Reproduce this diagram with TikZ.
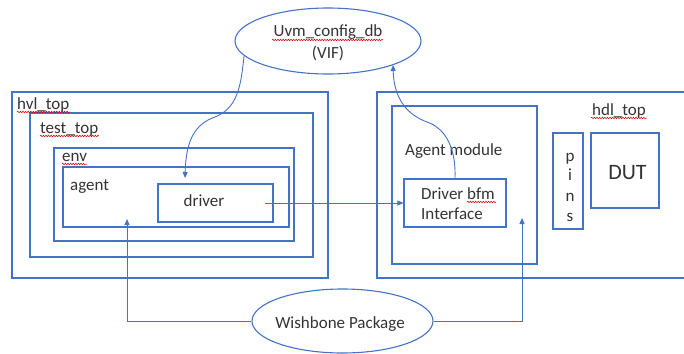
\documentclass[tikz,border=0pt]{standalone}
\usepackage{fontspec}
\setmainfont{Carlito}
\usetikzlibrary{shapes.geometric,arrows.meta,decorations.pathmorphing,fit}
\definecolor{ln}{HTML}{4472C4}
\definecolor{tx}{HTML}{333333}
\begin{document}
\begin{tikzpicture}[x=1pt,y=-1pt,
  box/.style={draw=ln,line width=1.1pt,inner sep=0pt,rectangle},
  ell/.style={draw=ln,line width=1.1pt,ellipse,inner sep=0pt},
  lab/.style={text=tx,font=\fontsize{17}{20}\selectfont,inner sep=0pt},
  conn/.style={draw=ln,line width=0.9pt,-{Triangle[length=6pt,width=5pt]}},
  squig/.style={draw=red!85!black,line width=0.5pt,decorate,decoration={snake,amplitude=0.8pt,segment length=2.6pt}}]
\useasboundingbox (0,0) rectangle (684,353);
% left hierarchy
\node[box,fit={(12,92) (328,278)}] (hvl) {};
\node[box,fit={(30,113) (313,257)}] (tst) {};
\node[box,fit={(54,148) (294,241)}] (env) {};
\node[box,fit={(63,167) (289,227)}] (agt) {};
\node[box,fit={(158,184) (273,222)}] (drv) {};
\node[lab,anchor=base west] (lhvl) at (17,109) {hvl\_top};
\node[lab,anchor=base west] (ltst) at (40,133) {test\_top};
\node[lab,anchor=base west] (lenv) at (62,161.5) {env};
\node[lab,anchor=base west] (lagt) at (70,190) {agent};
\node[lab,anchor=base] (ldrv) at (204,206.5) {driver};
% right hierarchy
\node[box,fit={(377,92) (692,278)}] (hdl) {};
\node[box,fit={(392,106) (537,264)}] (amod) {};
\node[box,fit={(404,179) (506,227)}] (bfm) {};
\node[box,fit={(553,133) (583,229)}] (pins) {};
\node[box,fit={(591,133) (659,208)}] (dut) {};
\node[lab,anchor=base west] (lamod) at (405,155) {Agent module};
\node[lab,anchor=base west] (lbfm1) at (421,199) {Driver bfm};
\node[lab,anchor=base west] (lbfm2) at (421,219) {Interface};
\node[lab,anchor=base west] (lhdl) at (592,115) {hdl\_top};
\node[lab,anchor=base,font=\fontsize{22}{24}\selectfont] (ldut) at (627.5,179) {DUT};
\node[lab,anchor=base] (lp) at (570,161.5) {p};
\node[lab,anchor=base] (li) at (570,180) {i};
\node[lab,anchor=base] (ln) at (570,201.5) {n};
\node[lab,anchor=base] (ls) at (570,221.5) {s};
% ellipses
\node[ell,minimum width=186pt,minimum height=66pt] (cfg) at (328,41) {};
\node[lab,anchor=base] (lcfg1) at (328,37) {Uvm\_config\_db};
\node[lab,anchor=base] (lcfg2) at (328,59) {(VIF)};
\node[ell,minimum width=181pt,minimum height=64pt] (wb) at (342.5,321) {};
\node[lab,anchor=base] (lwb) at (340,328) {Wishbone Package};
% spell-check underlines
\draw[squig] (17,112) -- (70,112);
\draw[squig] (40,136) -- (99,136);
\draw[squig] (62,164) -- (87,164);
\draw[squig] (272,40) -- (383,40);
\draw[squig] (467,202) -- (496,202);
\draw[squig] (591,118) -- (647,118);
% connectors
\coordinate (drvtip) at (185,178);
\coordinate (cfgtip) at (393,65);
\coordinate (drvout) at (265,203);
\coordinate (agttip) at (127,219);
\coordinate (amtip) at (522,218);
\draw[conn] (cfg.190) .. controls (241,85) and (238,108) .. (215,117)
  .. controls (195,124) and (186,140) .. (drvtip);
\draw[conn] (bfm.north) .. controls (456,150) and (447,129) .. (427,122)
  .. controls (408,115) and (394,100) .. (cfgtip);
\draw[conn] (drvout) -- (bfm.west);
\draw[conn] (wb.west) -| (agttip);
\draw[conn] (wb.east) -| (amtip);
\end{tikzpicture}
\end{document}
